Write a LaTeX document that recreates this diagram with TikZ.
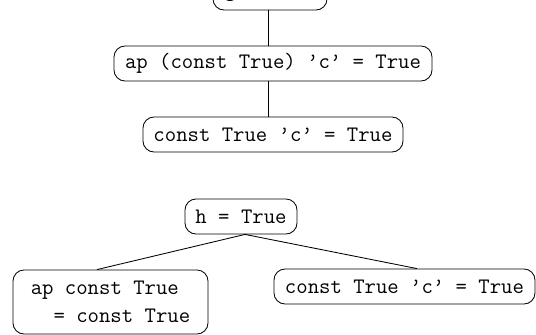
\documentclass[tikz,border=0pt]{standalone}
\usepackage{fontspec}
\tikzset{
  tbox/.style={draw, rounded corners=11pt, line width=0.85pt, inner sep=0pt,
    font=\ttfamily\fontsize{22.1}{28}\selectfont, anchor=center},
  conn/.style={line width=0.85pt}
}
\begin{document}
\begin{tikzpicture}[x=1pt,y=-1pt]
\useasboundingbox (0,0) rectangle (536,335);
\clip (0,0) rectangle (536,335);
\node[tbox, minimum width=114pt, minimum height=35pt] (g) at (270,-7.5) {g = True};
\node[tbox, minimum width=318pt, minimum height=35pt] (ap) at (273,63.5) {ap (const True) ’c’ = True};
\node[tbox, minimum width=260pt, minimum height=35pt] (c1) at (273,134.5) {const True ’c’ = True};
\node[tbox, minimum width=112pt, minimum height=35pt] (h) at (241,216.5) {h = True};
\node[tbox, minimum width=195pt, minimum height=64pt, align=left] (l) at (110.5,302) {ap const True\\\phantom{= }= const True};
\node[tbox, minimum width=261pt, minimum height=35pt] (r) at (404.5,286.5) {const True ’c’ = True};
\draw[conn] ([xshift=-2pt]g.south) -- ([xshift=-5pt]ap.north);
\draw[conn] ([xshift=-5pt]ap.south) -- ([xshift=-5pt]c1.north);
\draw[conn] ([xshift=4pt]h.south) -- ([xshift=-13.5pt]l.north);
\draw[conn] ([xshift=4pt]h.south) -- ([xshift=12.5pt]r.north);
\end{tikzpicture}
\end{document}
